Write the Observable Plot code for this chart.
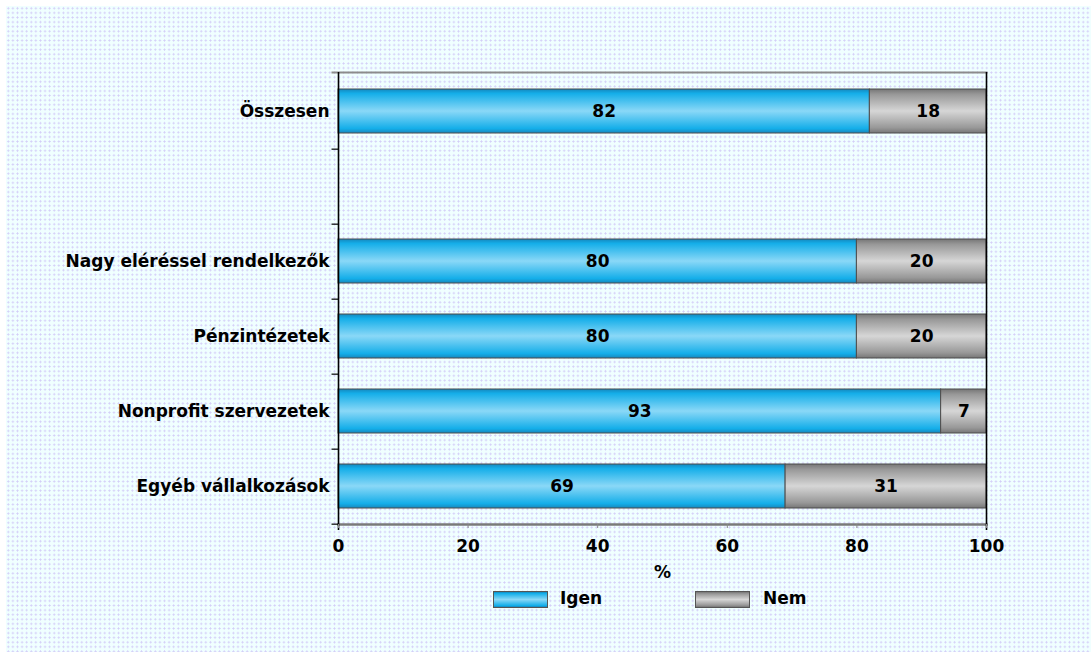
<!DOCTYPE html>
<html>
<head>
<meta charset="utf-8">
<script src="https://cdn.jsdelivr.net/npm/d3@7"></script>
<script src="https://cdn.jsdelivr.net/npm/@observablehq/plot@0.6"></script>
<style>
  html, body { margin: 0; padding: 0; background: #ffffff; }
  body { width: 1091px; height: 652px; position: relative; overflow: hidden; font-family: "DejaVu Sans", sans-serif; }
  #paper {
    position: absolute; left: 6px; top: 6px; right: 0; bottom: 0;
    background:
      radial-gradient(circle, #d3cdf7 0 0.8px, transparent 1.3px) 0 0 / 4.6px 4.6px,
      #f0ffff;
  }
  #chart { position: absolute; left: 0; top: 0; }
  .legend { position: absolute; top: 591px; left: 0; width: 1091px; height: 20px; font: bold 17px "DejaVu Sans", sans-serif; color: #000; }
  .legend .sw { position: absolute; top: 0; width: 53px; height: 15px; border: 1px solid #555; }
  .legend .lb { position: absolute; top: -3px; line-height: 20px; }
</style>
</head>
<body>
<div id="paper"></div>
<div id="chart"></div>
<div class="legend">
  <div class="sw" id="sw-igen" style="left:493px"></div><div class="lb" style="left:560px">Igen</div>
  <div class="sw" id="sw-nem" style="left:695px"></div><div class="lb" style="left:763px">Nem</div>
</div>
<script>
// Row order of the chart; the empty entry is a spacer row below the total
const rowOrder = ["Összesen", "", "Nagy eléréssel rendelkezők", "Pénzintézetek", "Nonprofit szervezetek", "Egyéb vállalkozások"];
const groups = ["Összesen", "Nagy eléréssel rendelkezők", "Pénzintézetek", "Nonprofit szervezetek", "Egyéb vállalkozások"];
const igen = [82, 80, 80, 93, 69];
const nem = [18, 20, 20, 7, 31];
const answers = ["Igen", "Nem"];
const xTicks = [0, 20, 40, 60, 80, 100];

// Long table for stacking: Igen first, then Nem in each row
const table = groups.flatMap((g, i) => [
  {group: g, answer: answers[0], value: igen[i]},
  {group: g, answer: answers[1], value: nem[i]}
]);

const W = 1091, H = 585, mT = 72, mB = 61, mL = 338, mR = 105;
const step = (H - mT - mB) / rowOrder.length;

const gradients = {
  igen: [[0, "#1687bd"], [0.1, "#14aee9"], [0.5, "#8ad8f7"], [0.9, "#14aee9"], [1, "#1687bd"]],
  nem:  [[0, "#767676"], [0.12, "#989898"], [0.5, "#d6d6d6"], [0.88, "#989898"], [1, "#767676"]]
};

const chart = Plot.plot({
  width: W, height: H,
  marginTop: mT, marginBottom: mB, marginLeft: mL, marginRight: mR,
  style: {fontFamily: "DejaVu Sans, sans-serif", fontSize: "17px", fontWeight: "bold", background: "transparent", color: "#000"},
  x: {domain: [0, 100]},
  y: {domain: rowOrder, paddingInner: 0.42, paddingOuter: 0.21, label: null},
  color: {domain: answers, range: ["url(#grad-igen)", "url(#grad-nem)"]},
  marks: [
    Plot.frame({anchor: "top", stroke: "#8c8c8c", strokeWidth: 2, insetLeft: -6}),
    Plot.frame({anchor: "bottom", stroke: "#7a7a7a", strokeWidth: 2.5}),
    Plot.barX(table, Plot.stackX({x: "value", y: "group", fill: "answer", stroke: "#4d4d4d", strokeWidth: 1})),
    Plot.text(table, Plot.stackX({x: "value", y: "group", text: d => String(d.value), fill: "#000"})),
    Plot.ruleX([0, 100], {stroke: "#000", strokeWidth: 1.6, insetBottom: -6}),
    // small marks on the category axis at the row boundaries
    Plot.ruleY(rowOrder, {y: d => d, dy: step / 2, x1: -1, x2: 0, stroke: "#000", strokeWidth: 1.2}),
    Plot.axisX({ticks: xTicks, tickSize: 4, tickPadding: 11, stroke: "#888", fill: "#000",
                label: "%", labelAnchor: "center", labelArrow: "none", labelOffset: 53}),
    Plot.axisY({tickSize: 0, tickPadding: 9, fill: "#000"})
  ]
});

// vertical gradients used by the bar fills
const defs = d3.select(chart).insert("defs", ":first-child");
for (const [key, stops] of Object.entries(gradients)) {
  const g = defs.append("linearGradient").attr("id", "grad-" + key)
    .attr("x1", 0).attr("y1", 0).attr("x2", 0).attr("y2", 1);
  for (const [o, c] of stops) g.append("stop").attr("offset", o).attr("stop-color", c);
  const css = "linear-gradient(to bottom," + stops.map(([o, c]) => c + " " + (o * 100) + "%").join(",") + ")";
  document.getElementById("sw-" + key).style.background = css;
}

document.getElementById("chart").appendChild(chart);
</script>
</body>
</html>
